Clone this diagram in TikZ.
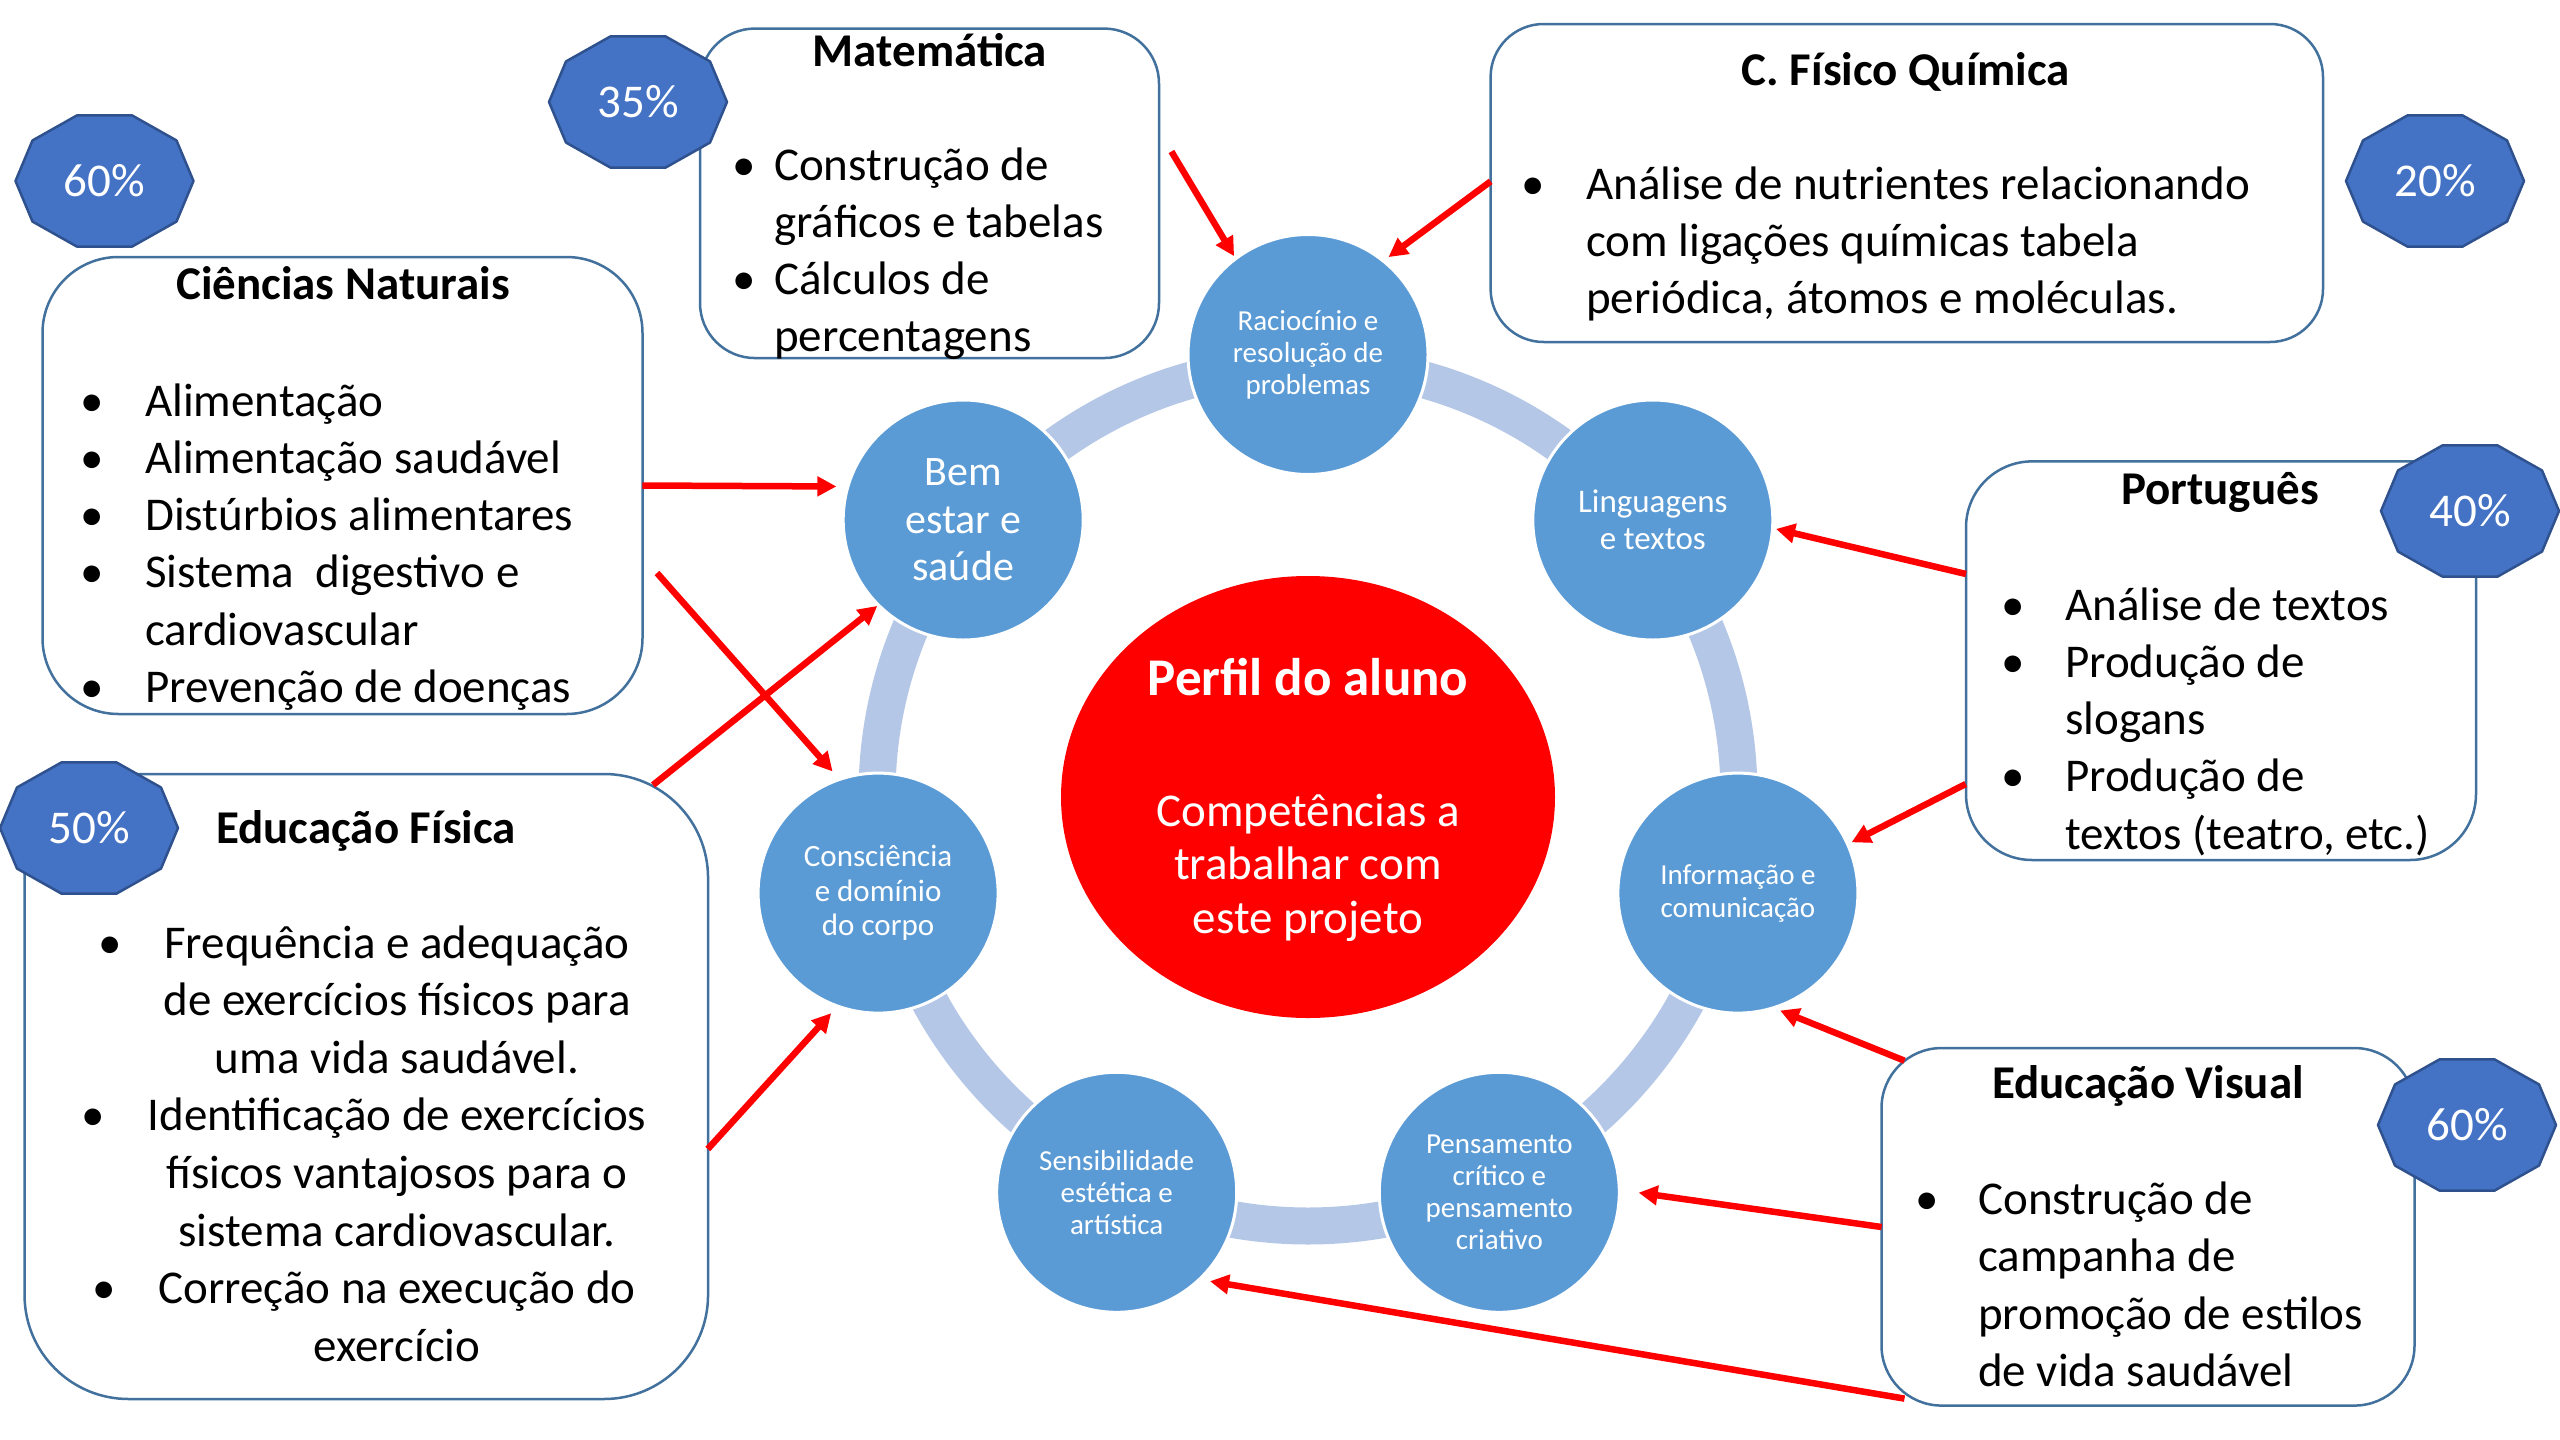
\documentclass[tikz,border=0pt]{standalone}
\usepackage{fontspec}
\setmainfont{Carlito}
\usetikzlibrary{arrows.meta,shapes.geometric,calc}
\definecolor{satfill}{RGB}{91,155,213}
\definecolor{ringc}{RGB}{180,199,231}
\definecolor{boxdraw}{RGB}{65,113,156}
\definecolor{badgefill}{RGB}{68,114,196}
\definecolor{badgedraw}{RGB}{47,82,143}
\definecolor{arrred}{RGB}{255,0,0}
\newcommand{\bitem}[1]{\leavevmode\llap{\textbullet\hspace{#1}}}
\newcommand{\pctbadge}[4]{%
  \draw[badge] ({#2+89},{#3}) \foreach \a in {36,72,...,324}{ -- ({#2+89*cos(\a)},{#3+69*sin(\a)})} -- cycle;
  \node[badgetext] (#1) at (#2,#3) {#4};
}
\begin{document}
\begin{tikzpicture}[x=1pt,y=-1pt,
  box/.style={draw=boxdraw, line width=2.5pt, fill=white, inner sep=0pt},
  sat/.style={circle, fill=satfill, draw=white, line width=3pt, minimum size=240pt, inner sep=0pt, text=white, align=center},
  badge/.style={fill=badgefill, draw=badgedraw, line width=2.5pt, line join=round},
  badgetext/.style={text=white, font=\fontsize{47}{57}\selectfont, inner sep=0pt},
  title/.style={anchor=base, inner sep=0pt, font=\bfseries\fontsize{47}{57}\selectfont},
  list/.style={anchor=base west, inner sep=0pt, font=\fontsize{47}{57.3}\selectfont},
  arr/.style={draw=arrred, line width=6.5pt, -{Triangle[length=19pt,width=19pt]}},
  ringline/.style={draw=ringc, line width=37pt}
]
\useasboundingbox (0,0) rectangle (2560,1440);
\fill[white] (0,0) rectangle (2560,1440);

% ring
\draw[ringline] (1308,795) circle[radius=431];

% satellites
\node[sat, font=\fontsize{29}{32}\selectfont] (rac) at (1308,354.5) {Raciocínio e\\resolução de\\problemas};
\node[sat, font=\fontsize{33}{37}\selectfont] (lin) at (1652.8,520) {Linguagens\\e textos};
\node[sat, font=\fontsize{29}{33}\selectfont] (inf) at (1737.9,893.1) {Informação e\\comunicação};
\node[sat, font=\fontsize{29}{32}\selectfont] (pen) at (1499.3,1192.3) {Pensamento\\crítico e\\pensamento\\criativo};
\node[sat, font=\fontsize{29}{32}\selectfont] (sen) at (1116.7,1192.3) {Sensibilidade\\estética e\\artística};
\node[sat, font=\fontsize{31}{34.5}\selectfont] (con) at (878.1,893.1) {Consciência\\e domínio\\do corpo};
\node[sat, font=\fontsize{42}{47.5}\selectfont] (bem) at (963.2,520) {Bem\\estar e\\saúde};

% center
\node[ellipse, fill=arrred, minimum width=494pt, minimum height=442pt, inner sep=0pt] (perfil) at (1308,797) {};
\node[anchor=base, text=white, inner sep=0pt, font=\bfseries\fontsize{53}{58}\selectfont] (perfilt) at (1308,695) {Perfil do aluno};
\node[anchor=base, text=white, inner sep=0pt, font=\fontsize{47}{53.5}\selectfont] (comp) at (1308,826) {\parbox[t]{440pt}{\centering Competências a\\trabalhar com\\este projeto}};

% boxes
\node[box, rounded corners=55pt, minimum width=459pt, minimum height=329.5pt] (mat) at (929.5,193.3) {};
\node[title] (matt) at (930,66.6) {Matemática};
\node[list] (matl) at (774,180) {\parbox[t]{380pt}{\raggedright
\bitem{18pt}Construção de\\gráficos e tabelas\par
\bitem{18pt}Cálculos de\\percentagens}};

\node[box, rounded corners=76pt, minimum width=600pt, minimum height=457pt] (cn) at (342.5,485.5) {};
\node[title] (cnt) at (343,299) {Ciências Naturais};
\node[list] (cnl) at (145,416) {\parbox[t]{480pt}{\raggedright
\bitem{41.5pt}Alimentação\par
\bitem{41.5pt}Alimentação saudável\par
\bitem{41.5pt}Distúrbios alimentares\par
\bitem{41.5pt}Sistema~ digestivo e\\cardiovascular\par
\bitem{41.5pt}Prevenção de doenças}};

\node[box, rounded corners=53pt, minimum width=832.4pt, minimum height=318pt] (fq) at (1906.8,183) {};
\node[title] (fqt) at (1906,85) {C. Físico Química};
\node[list] (fql) at (1586,199) {\parbox[t]{720pt}{\raggedright
\bitem{41.5pt}Análise de nutrientes relacionando\\com ligações químicas tabela\\periódica, átomos e moléculas.}};

\node[box, rounded corners=66pt, minimum width=510pt, minimum height=398.6pt] (pt) at (2221,660.7) {};
\node[title] (ptt) at (2220,504) {Português};
\node[list] (ptl) at (2065,620) {\parbox[t]{400pt}{\raggedright
\bitem{40.5pt}Análise de textos\par
\bitem{40.5pt}Produção de\\slogans\par
\bitem{40.5pt}Produção de\\textos (teatro, etc.)}};

\node[box, rounded corners=104pt, minimum width=683.5pt, minimum height=625pt] (ef) at (366.3,1086.5) {};
\node[title] (eft) at (366,843) {Educação Física};
\node[anchor=base, inner sep=0pt, font=\fontsize{47}{57.6}\selectfont] (efl) at (397,958) {\parbox[t]{560pt}{\centering
\bitem{42.5pt}Frequência e adequação\\de exercícios físicos para\\uma vida saudável.\par
\bitem{42.5pt}Identificação de exercícios\\físicos vantajosos para o\\sistema cardiovascular.\par
\bitem{42.5pt}Correção na execução do\\exercício}};

\node[box, rounded corners=60pt, minimum width=533pt, minimum height=357.5pt] (ev) at (2148,1226.8) {};
\node[title] (evt) at (2148,1098) {Educação Visual};
\node[list] (evl) at (1978,1214.5) {\parbox[t]{420pt}{\raggedright
\bitem{39.5pt}Construção de\\campanha de\\promoção de estilos\\de vida saudável}};

% badges
\pctbadge{p60a}{104.5}{181}{60\%}
\pctbadge{p35}{638}{102}{35\%}
\pctbadge{p20}{2435}{181}{20\%}
\pctbadge{p40}{2470}{511}{40\%}
\pctbadge{p50}{89}{828}{50\%}
\pctbadge{p60b}{2467}{1125}{60\%}

% arrows
\coordinate (s1) at (642.4,485.5);
\coordinate (s2) at (657,573);
\coordinate (s3) at (653,785);
\coordinate (s4) at (707.8,1149);
\coordinate (s5) at (1171.4,151.5);
\coordinate (s6) at (1490.6,181.4);
\coordinate (s7) at (1966,574);
\coordinate (s8) at (1965.7,784);
\coordinate (s9) at (1904.5,1060.7);
\coordinate (s10) at (1881.6,1227);
\coordinate (s11) at (1904.5,1398.6);
\draw[arr, shorten >=10pt] (s1) -- (bem.164.3);
\draw[arr, shorten >=9pt] (s2) -- (con.109.7);
\draw[arr] (s3) -- (bem.225.8);
\draw[arr, shorten >=8pt] (s4) -- (con.250.3);
\draw[arr, shorten >=1.5pt] (s5) -- (rac.127);
\draw[arr, shorten >=5pt] (s6) -- (rac.51.4);
\draw[arr, shorten >=2pt] (s7) -- (lin.-4.2);
\draw[arr, shorten >=3pt] (s8) -- (inf.24.3);
\draw[arr, shorten >=5pt] (s9) -- (inf.-72.8);
\draw[arr, shorten >=18pt] (s10) -- (pen.1.4);
\draw[arr, shorten >=9pt] (s11) -- (sen.-46.5);
\end{tikzpicture}
\end{document}
